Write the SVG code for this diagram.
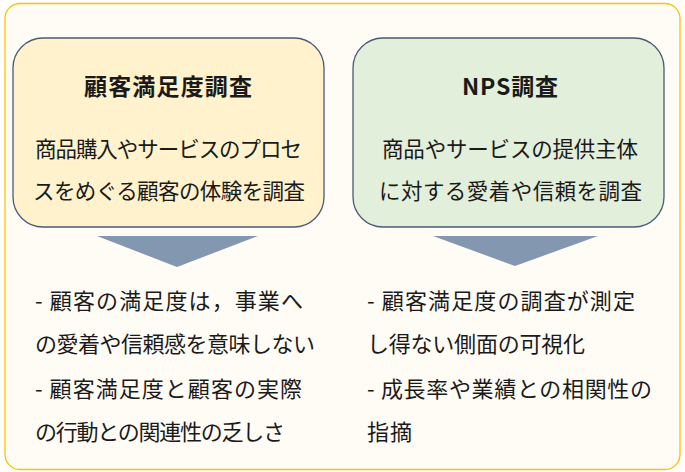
<svg xmlns="http://www.w3.org/2000/svg" width="685" height="472" viewBox="0 0 685 472">
<style>
.t{font-family:"Meiryo UI","Noto Sans CJK JP","Noto Sans",sans-serif;fill:#1a1a1a;}
.title{font-size:23px;font-weight:bold;}
.body{font-size:21.5px;}
.bul{font-size:22px;}
.box{stroke:#4a5a78;stroke-width:1.3;}
.arrow{fill:#8497b0;}
</style>
<rect x="5" y="3.5" width="675" height="466" rx="15" fill="#fffcf5" stroke="#ffc000" stroke-width="1.3"/>
<g id="node-csat">
<rect class="box" x="13" y="38" width="311" height="189" rx="30" fill="#fff2cc"/>
<text class="t title" x="168" y="95" text-anchor="middle" textLength="168">顧客満足度調査</text>
<text class="t body" x="168.5" y="157" text-anchor="middle" textLength="267">商品購入やサービスのプロセ</text>
<text class="t body" x="169" y="199" text-anchor="middle" textLength="272">スをめぐる顧客の体験を調査</text>
</g>
<g id="node-nps">
<rect class="box" x="353" y="38" width="311" height="189" rx="30" fill="#e2efda"/>
<text class="t title" x="510" y="95" text-anchor="middle" textLength="96">NPS調査</text>
<text class="t body" x="510" y="157" text-anchor="middle" textLength="256">商品やサービスの提供主体</text>
<text class="t body" x="510.5" y="199" text-anchor="middle" textLength="263">に対する愛着や信頼を調査</text>
</g>
<g id="connectors">
<polygon class="arrow" points="97,236 258,236 177,267"/>
<polygon class="arrow" points="433,236 598,236 515,266"/>
</g>
<g id="node-csat-notes">
<text class="t bul" x="35" y="309" textLength="268">- 顧客の満足度は，事業へ</text>
<text class="t bul" x="35" y="352" textLength="280">の愛着や信頼感を意味しない</text>
<text class="t bul" x="35" y="397" textLength="267">- 顧客満足度と顧客の実際</text>
<text class="t bul" x="35" y="440" textLength="250">の行動との関連性の乏しさ</text>
</g>
<g id="node-nps-notes">
<text class="t bul" x="367" y="309" textLength="268">- 顧客満足度の調査が測定</text>
<text class="t bul" x="367" y="352" textLength="218">し得ない側面の可視化</text>
<text class="t bul" x="367" y="397" textLength="285">- 成長率や業績との相関性の</text>
<text class="t bul" x="367" y="440" textLength="45">指摘</text>
</g>
</svg>
